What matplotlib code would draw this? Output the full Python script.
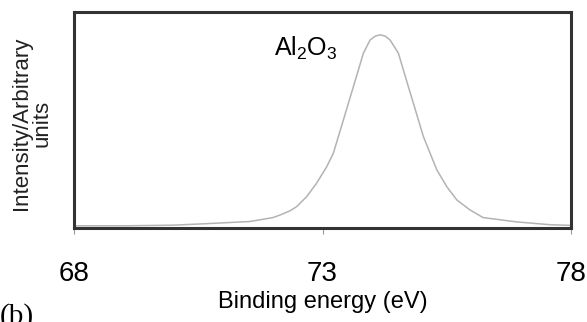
import numpy as np
import matplotlib.pyplot as plt

# Al2O3 peak (binding energy in eV, intensity in arbitrary units)
energia = [68.0, 69.0, 70.0, 70.67, 71.54, 72.0, 72.145, 72.35, 72.48, 72.68, 72.88,
           73.085, 73.217, 73.318, 73.419, 73.519, 73.62, 73.72, 73.821, 73.956,
           74.06, 74.157, 74.26, 74.358, 74.525, 74.626, 74.726, 74.827, 74.928,
           75.028, 75.163, 75.298, 75.499, 75.7, 75.968, 76.23, 76.91, 77.58, 78.0]
intensidade = [0.010, 0.010, 0.013, 0.020, 0.030, 0.048, 0.060, 0.080, 0.099, 0.145, 0.207,
               0.284, 0.346, 0.423, 0.500, 0.577, 0.654, 0.731, 0.809, 0.870,
               0.888, 0.894, 0.888, 0.870, 0.809, 0.731, 0.654, 0.577, 0.500,
               0.423, 0.346, 0.269, 0.191, 0.130, 0.083, 0.048, 0.028, 0.015, 0.012]
ticks_x = [68, 73, 78]

plt.rcParams['font.family'] = ['Liberation Sans', 'DejaVu Sans']

fig = plt.figure(figsize=(5.87, 3.22), dpi=100)
ax = fig.add_axes([0.126, 0.292, 0.847, 0.671])

ax.plot(energia, intensidade, color='#b3b3b3', lw=1.1)
ax.set_xlim(68, 78)
ax.set_ylim(0, 1)

ax.set_xticks(ticks_x)
ax.set_xticklabels([str(t) for t in ticks_x], fontsize=20)
ax.tick_params(axis='x', direction='out', length=4, width=0.8, color='#999999', pad=20)
ax.set_yticks([])
for s in ax.spines.values():
    s.set_color('#333333')
    s.set_linewidth(2.2)

ax.set_xlabel('Binding energy (eV)', fontsize=17, labelpad=3)
ax.text(72.67, 0.833, r'Al$_\mathregular{2}$O$_\mathregular{3}$', fontsize=18,
        ha='center', va='center')

fig.text(0.0545, 0.618, 'Intensity/Arbitrary\nunits', rotation=90, fontsize=16,
         ha='center', va='center', linespacing=0.95, color='#222222')
fig.text(0.0, 0.058, '(b)', fontsize=21, family='Liberation Serif', va='top', ha='left')

fig.savefig('out.png', dpi=100)
